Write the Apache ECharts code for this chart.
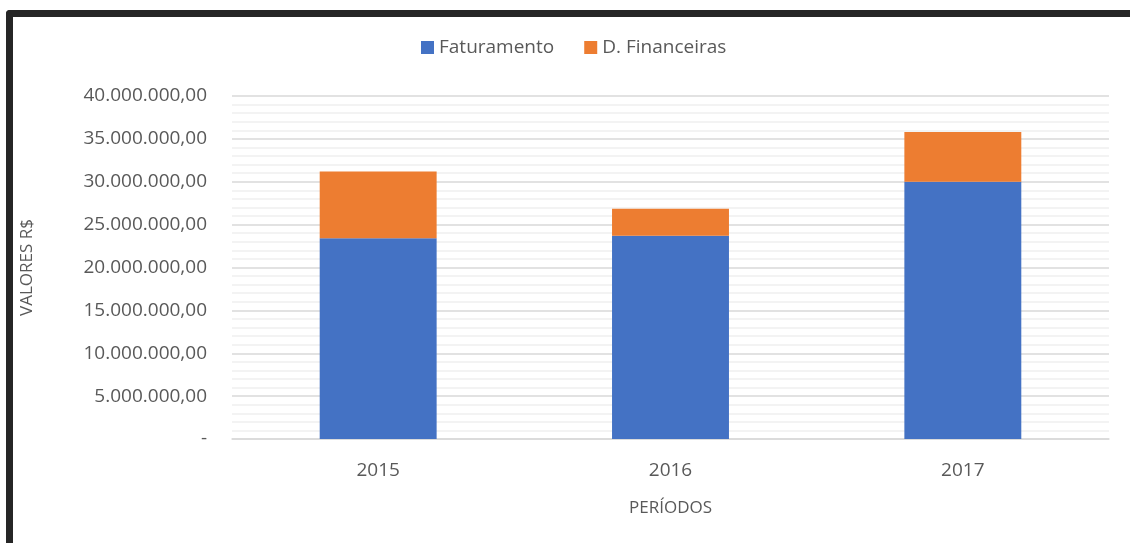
<!DOCTYPE html>
<html>
<head>
<meta charset="utf-8">
<script src="https://cdn.jsdelivr.net/npm/echarts@6/dist/echarts.min.js"></script>
<style>
  html, body { margin: 0; padding: 0; background: #fff; }
  #frame {
    position: absolute; left: 6px; top: 10px; width: 1130px; height: 540px;
    border-left: 7px solid #262626; border-top: 7px solid #262626;
    border-top-left-radius: 4px;
  }
  #chart { position: absolute; left: 0; top: 0; width: 1130px; height: 543px; }
</style>
</head>
<body>
<div id="frame"></div>
<div id="chart"></div>
<script>
const periods = ["2015", "2016", "2017"];
const faturamento = [23400000, 23700000, 30000000];
const despFinanceiras = [7800000, 3150000, 5800000];
const seriesNames = ["Faturamento", "D. Financeiras"];

const fontFamily = "'Open Sans', sans-serif";
const textColor = "#595959";

function formatBRL(v) {
  if (v === 0) return "-";
  const s = Math.round(v).toString().replace(/\B(?=(\d{3})+(?!\d))/g, ".");
  return s + ",00";
}

const chart = echarts.init(document.getElementById("chart"));
chart.setOption({
  animation: false,
  legend: {
    top: 33,
    left: 416,
    itemWidth: 13,
    itemHeight: 13,
    itemGap: 30,
    icon: "rect",
    textStyle: { fontFamily, fontSize: 19, color: textColor },
    data: seriesNames
  },
  grid: { left: 232, right: 21, top: 96, bottom: 104 },
  xAxis: {
    type: "category",
    data: periods,
    name: "PERÍODOS",
    nameLocation: "middle",
    nameGap: 61,
    nameTextStyle: { fontFamily, fontSize: 17, color: textColor },
    axisLine: { lineStyle: { color: "#d9d9d9", width: 1.5 } },
    axisTick: { show: false },
    axisLabel: { fontFamily, fontSize: 19, color: textColor, margin: 22 }
  },
  yAxis: {
    type: "value",
    min: 0,
    max: 40000000,
    interval: 5000000,
    name: "VALORES R$",
    nameLocation: "middle",
    nameGap: 196,
    nameTextStyle: { fontFamily, fontSize: 17, color: textColor },
    axisLine: { show: false },
    axisTick: { show: false },
    axisLabel: {
      fontFamily, fontSize: 19, color: textColor, margin: 25,
      formatter: formatBRL
    },
    splitLine: { lineStyle: { color: "#d9d9d9", width: 1.5 } },
    minorTick: { show: false, splitNumber: 5 },
    minorSplitLine: { show: true, lineStyle: { color: "#f0f0f0", width: 1.5 } }
  },
  series: [
    {
      name: seriesNames[0],
      type: "bar",
      stack: "total",
      barWidth: "40%",
      data: faturamento,
      itemStyle: { color: "#4472c4" }
    },
    {
      name: seriesNames[1],
      type: "bar",
      stack: "total",
      data: despFinanceiras,
      itemStyle: { color: "#ed7d31" }
    }
  ]
});
</script>
</body>
</html>
